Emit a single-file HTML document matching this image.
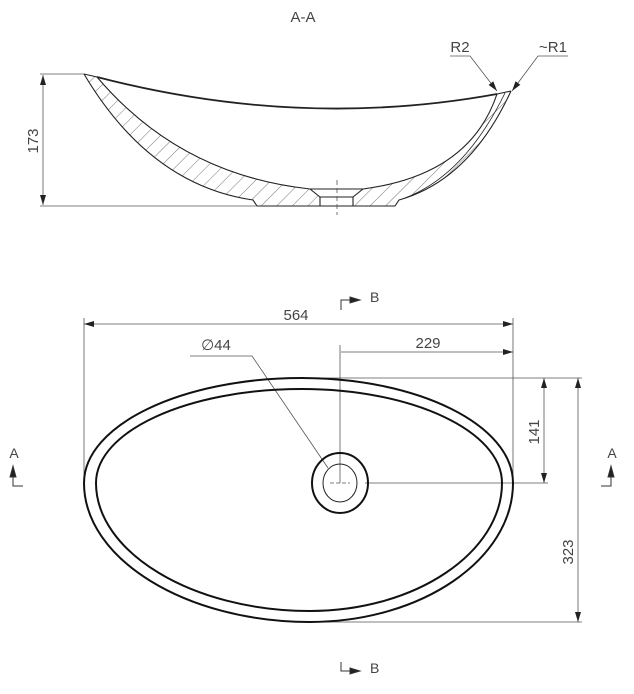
<!DOCTYPE html>
<html><head><meta charset="utf-8"><style>
html,body{margin:0;padding:0;background:#fff;}
svg{display:block;font-family:"Liberation Sans",sans-serif;}
</style></head><body>
<svg width="634" height="694" viewBox="0 0 634 694" xmlns="http://www.w3.org/2000/svg">
<defs>
<pattern id="h" patternUnits="userSpaceOnUse" width="11" height="11" patternTransform="rotate(45)">
<line x1="0" y1="0" x2="0" y2="11" stroke="#555" stroke-width="0.8"/>
</pattern>
<marker id="ar" markerWidth="10" markerHeight="6" refX="10" refY="3" orient="auto-start-reverse" markerUnits="userSpaceOnUse">
<path d="M0,0 L10,3 L0,6z" fill="#222"/>
</marker>
</defs>
<g fill="#444" font-size="15">
<text x="303" y="22" text-anchor="middle">A-A</text>
<text x="460" y="52" text-anchor="middle">R2</text>
<text x="553" y="52" text-anchor="middle">~R1</text>
<text x="0" y="0" transform="translate(38,141) rotate(-90)" text-anchor="middle">173</text>
<text x="296" y="320" text-anchor="middle">564</text>
<text x="428" y="348" text-anchor="middle">229</text>
<text x="216" y="350" text-anchor="middle">&#8709;44</text>
<text x="0" y="0" transform="translate(539,432) rotate(-90)" text-anchor="middle">141</text>
<text x="0" y="0" transform="translate(573,552) rotate(-90)" text-anchor="middle">323</text>
<text x="370" y="302" font-size="14">B</text>
<text x="370" y="673" font-size="14">B</text>
<text x="14" y="458" font-size="14" text-anchor="middle">A</text>
<text x="612" y="458" font-size="14" text-anchor="middle">A</text>
</g>
<path d="M84,74 Q150,185 253,200 L257,206 L395,206 L399,200 Q470,180 511,91 L497,94 Q470,175 363,189 L353,197 L353,206 L320,206 L320,197 L310,189 Q180,175 97,77 Z" fill="url(#h)" stroke="none"/>
<g fill="none" stroke="#222" stroke-width="1.1">
<path d="M84,74 Q150,185 253,200 L257,206 L395,206 L399,200 Q470,180 511,91"/>
<path d="M97,77 Q180,175 310,189 L363,189 Q470,175 497,94"/>
<path d="M84,74 L97,77"/>
<path d="M497,94 L511,91"/>
<path d="M310,189 L320,197 L353,197 L363,189 M320,197 L320,206 M353,197 L353,206"/>
<path d="M505,93 Q465,175 405,198" stroke-width="0.8"/>
<path d="M97,77 Q300,130 497,94" stroke-width="1.8"/>
</g>
<g stroke="#555" stroke-width="0.8" fill="none">
<line x1="337" y1="180" x2="337" y2="215" stroke-dasharray="5,3"/>
<line x1="40" y1="74" x2="84" y2="74"/>
<line x1="40" y1="206" x2="257" y2="206"/>
<line x1="43" y1="75" x2="43" y2="205" marker-start="url(#ar)" marker-end="url(#ar)"/>
<polyline points="450,56 470,56 497,91" marker-end="url(#ar)"/>
<polyline points="568,56 538,56 512,91" marker-end="url(#ar)"/>
<line x1="84" y1="318" x2="84" y2="483"/>
<line x1="513" y1="318" x2="513" y2="483"/>
<line x1="84" y1="324" x2="513" y2="324" marker-start="url(#ar)" marker-end="url(#ar)"/>
<line x1="340" y1="345" x2="340" y2="483"/>
<line x1="341" y1="352" x2="513" y2="352" marker-end="url(#ar)"/>
<polyline points="190,356 252,356 328,468"/>
<line x1="300" y1="378" x2="582" y2="378"/>
<line x1="365" y1="483" x2="548" y2="483"/>
<line x1="310" y1="622" x2="582" y2="622"/>
<line x1="544" y1="378" x2="544" y2="483" marker-start="url(#ar)" marker-end="url(#ar)"/>
<line x1="578" y1="378" x2="578" y2="622" marker-start="url(#ar)" marker-end="url(#ar)"/>
<line x1="330" y1="483" x2="350" y2="483" stroke-dasharray="4,2"/>
</g>
<g fill="none" stroke="#111" stroke-width="2">
<path d="M84,483 C84,425 182,378 302,378 C418,378 513,425 513,483 C513,559 422,622 310,622 C186,622 84,559 84,483 Z"/>
<path d="M96,483 C96,431 188,389 302,389 C412,389 502,431 502,483 C502,552 416,611 310,611 C192,611 96,552 96,483 Z"/>
<ellipse cx="340" cy="483" rx="28" ry="30"/>
</g>
<ellipse cx="340" cy="483" rx="17" ry="19" fill="none" stroke="#222" stroke-width="1"/>
<g stroke="#333" stroke-width="1" fill="#222">
<polyline points="341,310 341,300 352,300" fill="none"/>
<path d="M350,297 L360,300 L350,303z"/>
<polyline points="341,662 341,671 352,671" fill="none"/>
<path d="M350,668 L360,671 L350,674z"/>
<polyline points="13,475 13,486 23,486" fill="none"/>
<path d="M10,477 L13,466 L16,477z"/>
<polyline points="611,475 611,486 601,486" fill="none"/>
<path d="M608,477 L611,466 L614,477z"/>
</g>
</svg>
</body></html>
